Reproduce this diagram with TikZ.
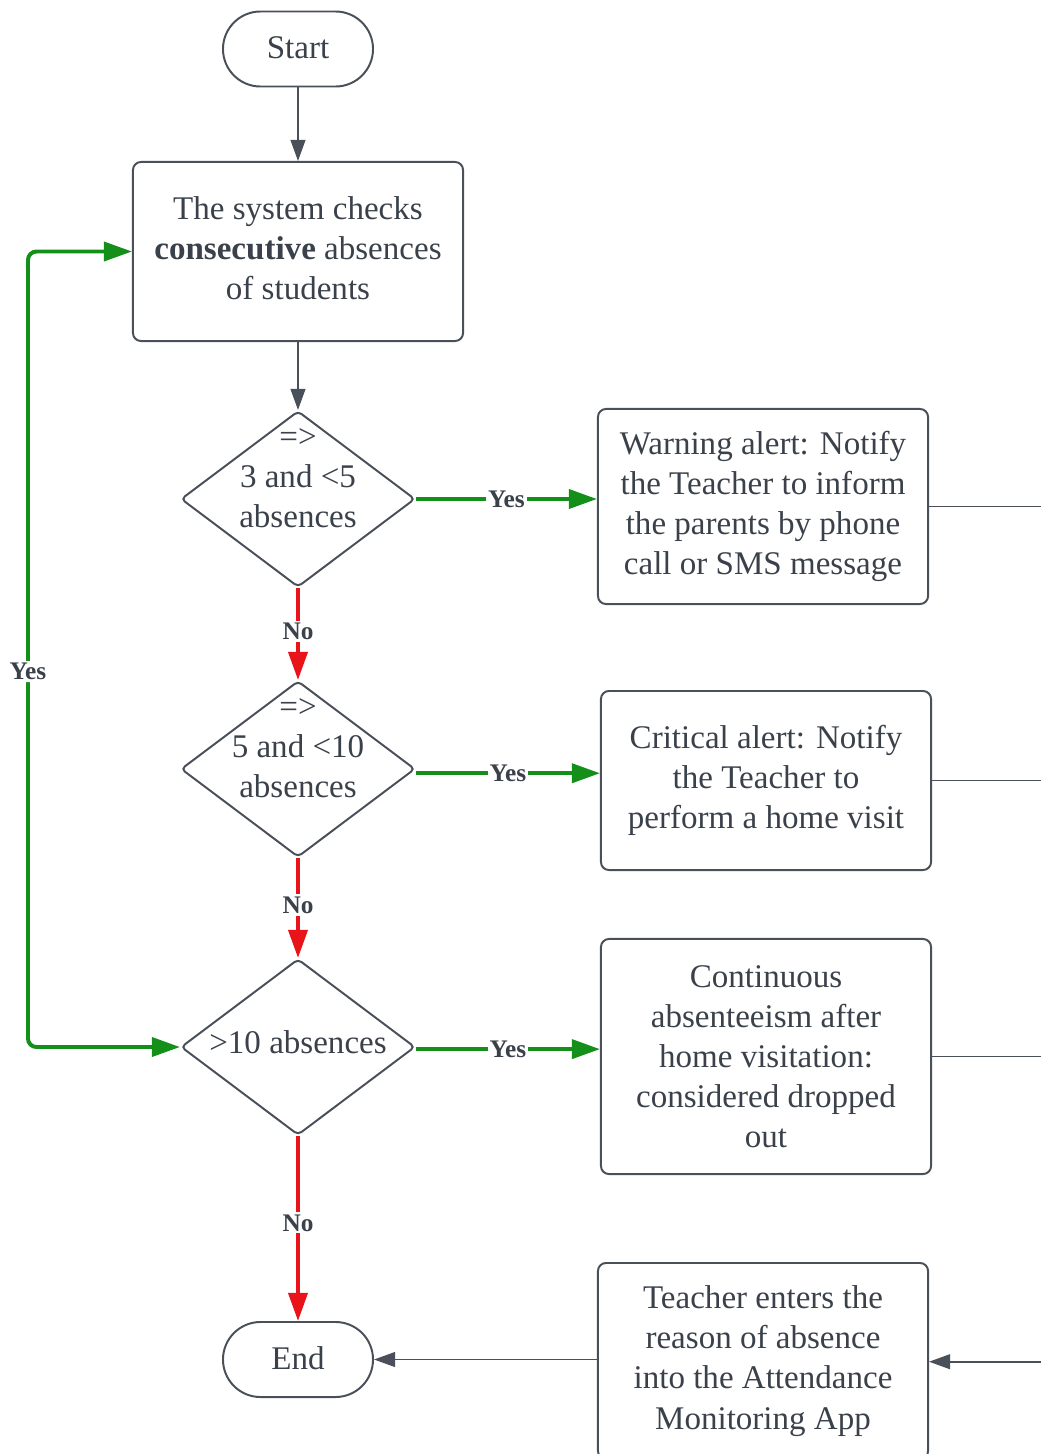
\documentclass[tikz,border=0pt]{standalone}
\usepackage{fontspec}
\setmainfont{Liberation Serif}
\usetikzlibrary{arrows.meta,shapes.geometric}

\definecolor{ink}{HTML}{3A414A}
\definecolor{edge}{HTML}{4A5059}
\definecolor{yesgreen}{HTML}{14901A}
\definecolor{nored}{HTML}{E8141A}

\tikzset{
  txt/.style={font=\fontsize{23.5}{28.5}\selectfont, text=ink, align=center, inner sep=0pt},
  term/.style={draw=edge, line width=1.4pt, rounded corners=0.9375cm,
    minimum width=3.75cm, minimum height=1.875cm, txt},
  proc/.style={draw=edge, line width=1.4pt, rounded corners=0.2cm,
    minimum width=8.25cm, txt},
  dec/.style={diamond, draw=edge, line width=1.4pt, rounded corners=3pt,
    minimum width=5.85cm, minimum height=4.4cm, inner sep=0pt},
  flow/.style={draw=edge, line width=1.3pt, -{Triangle[length=15pt,width=10.5pt]}},
  yesarrow/.style={draw=yesgreen, line width=2.8pt, -{Triangle[length=20pt,width=13.5pt]}},
  noarrow/.style={draw=nored, line width=2.8pt, -{Triangle[length=20pt,width=13.5pt]}},
  plainline/.style={draw=edge, line width=1.3pt},
  lab/.style={font=\bfseries\fontsize{18}{20}\selectfont, text=ink, fill=white, inner sep=1.5pt},
}

\begin{document}
\begin{tikzpicture}[x=0.025cm, y=-0.025cm]
  \useasboundingbox (0,0) rectangle (1041,1454);

  % left column: terminals, check step and decisions
  \node[term] (start) at (298,49) {\raisebox{1.5pt}{Start}};
  \node[proc, minimum height=4.475cm] (check) at (298,251.5)
    {\raisebox{1.5pt}{\begin{tabular}{@{}c@{}}The system checks\\\textbf{consecutive} absences\\of students\end{tabular}}};

  \node[dec] (d1) at (298,499) {};
  \node[txt] (d1t) at (298,478) {=>\\3 and <5\\absences};
  \node[dec] (d2) at (298,769) {};
  \node[txt] (d2t) at (298,748) {=>\\5 and <10\\absences};
  \node[dec] (d3) at (298,1047) {};
  \node[txt] (d3t) at (298,1042) {>10 absences};

  \node[term] (end) at (298,1359.5) {\raisebox{1.5pt}{End}};

  % right column: actions
  \node[proc, minimum height=4.875cm] (warn) at (763,506.5)
    {Warning alert: Notify\\the Teacher to inform\\the parents by phone\\call or SMS message};
  \node[proc, minimum height=4.475cm] (crit) at (766,780.5)
    {Critical alert: Notify\\the Teacher to\\perform a home visit};
  \node[proc, minimum height=5.875cm] (drop) at (766,1056.5)
    {Continuous\\absenteeism after\\home visitation:\\considered dropped\\out};
  \node[proc, minimum height=4.9cm] (enter) at (763,1361)
    {Teacher enters the\\reason of absence\\into the Attendance\\Monitoring App};

  % helper coordinates for the outer lines
  \coordinate (rim) at (1041,0);
  \coordinate (loop) at (28,0);

  % main flow
  \draw[flow] (start) -- (check);
  \draw[flow] (check) -- (d1);

  \draw[yesarrow] (d1.east) -- (d1.east -| warn.west)
    node[lab, midway] {Yes};
  \draw[yesarrow] ([yshift=-3pt]d2.east) -- ([yshift=-3pt]d2.east -| crit.west)
    node[lab, midway] {Yes};
  \draw[yesarrow] ([yshift=-1.5pt]d3.east) -- ([yshift=-1.5pt]d3.east -| drop.west)
    node[lab, midway] {Yes};

  \draw[noarrow] (d1.south) -- (d2.north) node[lab, pos=0.47] {No};
  \draw[noarrow] (d2.south) -- (d3.north) node[lab, pos=0.47] {No};
  \draw[noarrow] (d3.south) -- (end.north) node[lab, pos=0.47] {No};

  % loop back on the left
  \draw[yesarrow, {Triangle[length=20pt,width=13.5pt]}-{Triangle[length=20pt,width=13.5pt]},
        rounded corners=6pt]
    (d3.west) -- (d3.west -| loop) -- (check.west -| loop)
    node[lab, pos=0.472] {Yes} -- (check.west);

  % lines leaving on the right
  \draw[plainline] (warn.east) -- (warn.east -| rim);
  \draw[plainline] (crit.east) -- (crit.east -| rim);
  \draw[plainline] (drop.east) -- (drop.east -| rim);
  \draw[flow] ([yshift=-0.5pt]enter.east -| rim) -- ([yshift=-0.5pt]enter.east);
  \draw[flow] (enter.west |- end.east) -- (end.east);
\end{tikzpicture}
\end{document}
